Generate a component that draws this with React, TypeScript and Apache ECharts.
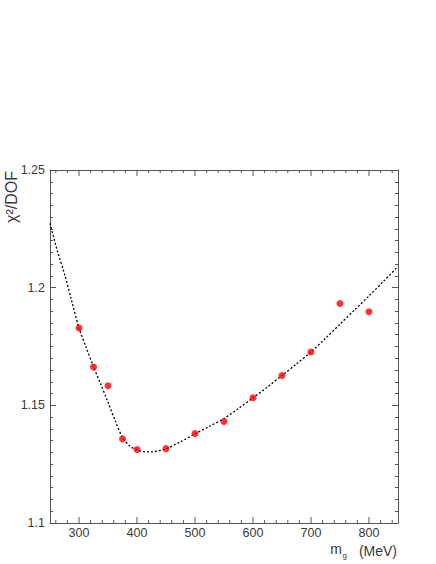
import React, { useEffect, useRef } from "react";
import * as echarts from "echarts";

// Measured data points (m_g in MeV, chi2/DOF)
const massValues = [300, 325, 350, 375, 400, 450, 500, 550, 600, 650, 700, 750, 800];
const chi2Values = [1.1829, 1.1663, 1.1583, 1.1357, 1.1312, 1.1316, 1.138, 1.1431, 1.1532, 1.1627, 1.1727, 1.1933, 1.1898];

// Dashed fit curve
const curveX = [250, 262.5, 275, 287.5, 300, 312.5, 325, 337.5, 350, 362.5, 375, 387.5, 400, 412.5, 425, 437.5, 450, 475, 500, 525, 550, 575, 600, 625, 650, 675, 700, 725, 750, 775, 800, 825, 850];
const curveY = [1.2273, 1.2158, 1.2058, 1.1943, 1.1829, 1.1745, 1.1664, 1.159, 1.1513, 1.1434, 1.1364, 1.1327, 1.1311, 1.1303, 1.1302, 1.1307, 1.1315, 1.1345, 1.1379, 1.1411, 1.1444, 1.1487, 1.1532, 1.1578, 1.1627, 1.1676, 1.1727, 1.1785, 1.1845, 1.1905, 1.1965, 1.2027, 1.209];

// Axis ticks
const xMajorTicks = [300, 400, 500, 600, 700, 800];
const xMinorTicks = [260, 280, 320, 340, 360, 380, 420, 440, 460, 480, 520, 540, 560, 580, 620, 640, 660, 680, 720, 740, 760, 780, 820, 840];
const xMin = 250;
const xMax = 850;
const yMin = 1.1;
const yMax = 1.25;

const FONT = "'Liberation Sans', Arial, sans-serif";
const AXIS_COLOR = "#555";
const TEXT_COLOR = "#3a3a3a";

export default function App() {
  const ref = useRef<HTMLDivElement>(null);

  useEffect(() => {
    if (!ref.current) return;
    const chart = echarts.init(ref.current, undefined, { renderer: "svg" });

    const tickData = [
      ...xMajorTicks.map((v) => [v, 1]),
      ...xMinorTicks.map((v) => [v, 0]),
    ];

    const option: any = {
      animation: false,
      backgroundColor: "#fff",
      textStyle: { fontFamily: FONT },
      grid: { left: 50, right: 38, top: 170, bottom: 41, containLabel: false },
      xAxis: [
        {
          type: "value",
          min: xMin,
          max: xMax,
          splitNumber: 6,
          position: "bottom",
          axisLine: { show: true, onZero: false, lineStyle: { color: AXIS_COLOR, width: 1 } },
          axisTick: { show: false },
          splitLine: { show: false },
          axisLabel: {
            show: true,
            showMinLabel: false,
            showMaxLabel: false,
            margin: 3,
            color: TEXT_COLOR,
            fontSize: 12.5,
            fontFamily: FONT,
            formatter: (v: number) => String(v),
          },
        },
        {
          type: "value",
          min: xMin,
          max: xMax,
          position: "top",
          axisLine: { show: true, onZero: false, lineStyle: { color: AXIS_COLOR, width: 1 } },
          axisTick: { show: false },
          splitLine: { show: false },
          axisLabel: { show: false },
        },
      ],
      yAxis: [
        {
          type: "value",
          min: yMin,
          max: yMax,
          interval: 0.05,
          position: "left",
          axisLine: { show: true, onZero: false, lineStyle: { color: AXIS_COLOR, width: 1 } },
          axisTick: { show: true, inside: true, length: 6, lineStyle: { color: AXIS_COLOR } },
          minorTick: { show: true, splitNumber: 10, length: 3, lineStyle: { color: AXIS_COLOR } },
          splitLine: { show: false },
          axisLabel: {
            margin: 5,
            color: TEXT_COLOR,
            fontSize: 12.5,
            fontFamily: FONT,
            formatter: (v: number) => String(+v.toFixed(3)),
          },
        },
        {
          type: "value",
          min: yMin,
          max: yMax,
          interval: 0.05,
          position: "right",
          axisLine: { show: true, onZero: false, lineStyle: { color: AXIS_COLOR, width: 1 } },
          axisTick: { show: true, inside: true, length: 6, lineStyle: { color: AXIS_COLOR } },
          minorTick: { show: true, splitNumber: 10, length: 3, lineStyle: { color: AXIS_COLOR } },
          splitLine: { show: false },
          axisLabel: { show: false },
        },
      ],
      series: [
        {
          type: "custom",
          xAxisIndex: 0,
          yAxisIndex: 0,
          silent: true,
          clip: false,
          data: tickData,
          renderItem: (params: any, api: any) => {
            const v = api.value(0);
            const major = api.value(1) === 1;
            const len = major ? 6 : 3;
            const b = api.coord([v, yMin]);
            const t = api.coord([v, yMax]);
            const style = { stroke: AXIS_COLOR, lineWidth: 1 };
            return {
              type: "group",
              children: [
                { type: "line", shape: { x1: b[0], y1: b[1], x2: b[0], y2: b[1] - len }, style },
                { type: "line", shape: { x1: t[0], y1: t[1], x2: t[0], y2: t[1] + len }, style },
              ],
            };
          },
        },
        {
          type: "line",
          name: "fit",
          data: curveX.map((x, i) => [x, curveY[i]]),
          showSymbol: false,
          symbol: "none",
          smooth: 0.3,
          lineStyle: { color: "#000", width: 1.3, type: [2, 2] },
          z: 3,
        },
        {
          type: "scatter",
          name: "data",
          data: massValues.map((x, i) => [x, chi2Values[i]]),
          symbol: "circle",
          symbolSize: 7,
          itemStyle: { color: "#ff0000" },
          z: 4,
        },
      ],
      graphic: [
        {
          type: "text",
          x: 11,
          y: 197,
          rotation: Math.PI / 2,
          style: {
            text: "χ²/DOF",
            fontSize: 16,
            fontFamily: FONT,
            fill: TEXT_COLOR,
            align: "center",
            verticalAlign: "middle",
          },
        },
        {
          type: "text",
          x: 342,
          y: 556,
          style: {
            text: "m",
            fontSize: 14,
            fontFamily: FONT,
            fill: TEXT_COLOR,
            align: "right",
            verticalAlign: "bottom",
          },
        },
        {
          type: "text",
          x: 342.5,
          y: 559,
          style: {
            text: "g",
            fontSize: 8,
            fontFamily: FONT,
            fill: TEXT_COLOR,
            align: "left",
            verticalAlign: "bottom",
          },
        },
        {
          type: "text",
          x: 397,
          y: 558,
          style: {
            text: "(MeV)",
            fontSize: 14,
            fontFamily: FONT,
            fill: TEXT_COLOR,
            align: "right",
            verticalAlign: "bottom",
          },
        },
      ],
    };

    chart.setOption(option);
    return () => chart.dispose();
  }, []);

  return (
    <div
      ref={ref}
      style={{ position: "fixed", left: 0, top: 0, width: 436, height: 564, background: "#fff" }}
    />
  );
}
